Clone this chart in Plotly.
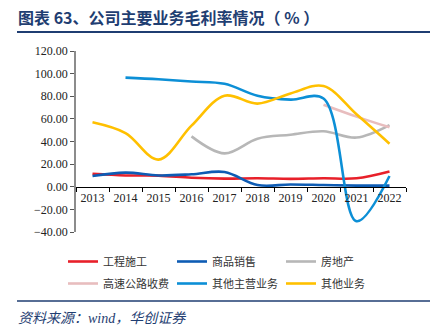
import plotly.graph_objects as go

# Gross margin by business line (%), 2013-2022
years = ["2013", "2014", "2015", "2016", "2017", "2018", "2019", "2020", "2021", "2022"]
engineering = [11.5, 10.0, 9.8, 8.0, 7.2, 7.5, 7.0, 7.5, 7.5, 13.5]
goods_sales = [9.5, 12.5, 10.0, 11.0, 13.0, 1.5, 2.0, 1.5, 1.0, 1.0]
real_estate = [None, None, None, 44.5, 29.5, 42.5, 46.0, 49.0, 43.5, 54.5]
toll_road = [None, None, None, None, None, None, None, 72.5, 62.0, 52.5]
other_main = [None, 96.5, 95.0, 93.0, 91.0, 80.5, 77.0, 78.0, -30.5, 9.5]
other_biz = [57.0, 47.5, 24.0, 54.0, 80.5, 73.5, 82.5, 89.0, 64.0, 38.0]

series = [
    ("工程施工", engineering, "#E8202A"),
    ("商品销售", goods_sales, "#0E5CB4"),
    ("房地产", real_estate, "#B7B7B7"),
    ("高速公路收费", toll_road, "#E8BDBE"),
    ("其他主营业务", other_main, "#0C8FD6"),
    ("其他业务", other_biz, "#FFC000"),
]

W, H = 439, 332
L, R, T, B = 76, 33, 51, 100
PW, PH = W - L - R, H - T - B


def px(x):
    return (x - L) / PW


def py(y):
    return (H - B - y) / PH


NAVY = "#1F3E72"
SERIF = "Liberation Serif, Times New Roman, serif"
CJK = "Noto Sans CJK SC, sans-serif"

fig = go.Figure()
for i, (name, vals, color) in enumerate(series):
    fig.add_trace(go.Scatter(
        x=years, y=vals, name=name, mode="lines",
        line=dict(color=color, width=2.6, shape="spline", smoothing=1.0),
        connectgaps=False,
        legend="legend" if i < 3 else "legend2",
    ))

legend_style = dict(
    orientation="h", xanchor="left", yanchor="top",
    entrywidth=64, entrywidthmode="pixels",
    font=dict(family=CJK, size=11, color="#333333"),
    itemwidth=30, bgcolor="rgba(0,0,0,0)",
)

fig.update_layout(
    width=W, height=H,
    margin=dict(l=L, r=R, t=T, b=B),
    paper_bgcolor="white", plot_bgcolor="white",
    showlegend=True,
    legend=dict(legend_style, x=px(63), y=py(247)),
    legend2=dict(legend_style, x=px(63), y=py(269)),
    xaxis=dict(
        type="category", range=[-0.5, 9.5],
        anchor="free", position=40 / 160,
        showline=True, linecolor="#000000", linewidth=1,
        ticks="outside", tickson="boundaries", ticklen=4, tickcolor="#000000",
        showgrid=False, zeroline=False,
        tickfont=dict(family=SERIF, size=12, color="#222222"),
    ),
    yaxis=dict(
        range=[-40, 120], dtick=20, tickformat=".2f",
        showline=True, linecolor="#8C8C8C", linewidth=1.5,
        ticks="outside", ticklen=4, tickcolor="#555555",
        showgrid=False, zeroline=False,
        tickfont=dict(family=SERIF, size=12, color="#222222"),
    ),
)

# Title, rules and source note
fig.add_annotation(
    text="<b>图表 63、公司主要业务毛利率情况（ % ）</b>",
    xref="paper", yref="paper", x=px(16), y=py(17),
    xanchor="left", yanchor="middle", showarrow=False,
    font=dict(family=CJK, size=16, color=NAVY),
)
fig.add_shape(type="line", xref="paper", yref="paper",
              x0=px(17), x1=px(430), y0=py(32), y1=py(32),
              line=dict(color=NAVY, width=2))
fig.add_shape(type="line", xref="paper", yref="paper",
              x0=px(17), x1=px(430), y0=py(301), y1=py(301),
              line=dict(color=NAVY, width=1.5))
fig.add_annotation(
    text="<i>资料来源：wind，华创证券</i>",
    xref="paper", yref="paper", x=px(16), y=py(318),
    xanchor="left", yanchor="middle", showarrow=False,
    font=dict(family=SERIF + ", Noto Sans CJK SC", size=14, color=NAVY),
)

fig.write_html("out.html")
